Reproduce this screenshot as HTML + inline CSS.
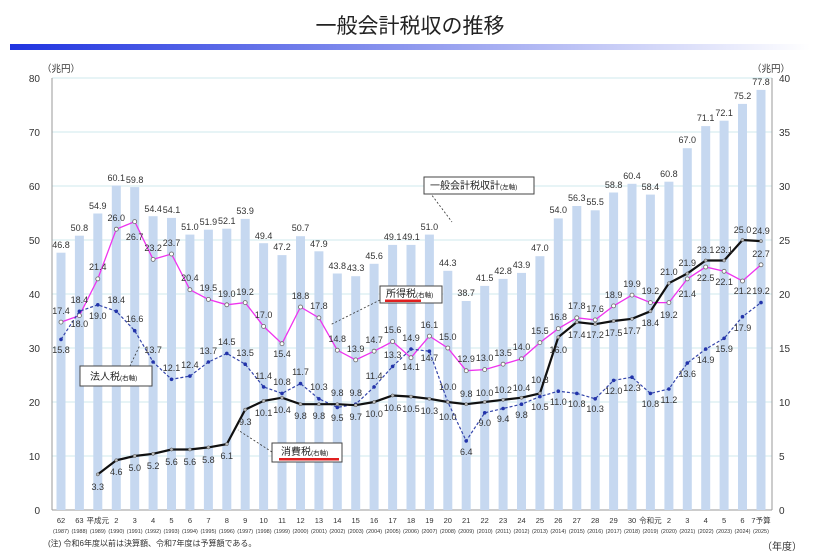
<!DOCTYPE html>
<html><head><meta charset="utf-8"><style>
body{margin:0;background:#fff;}
svg{display:block;font-family:"Liberation Sans","Noto Sans CJK JP",sans-serif;}
.d{font-size:9px;fill:#333;text-anchor:middle;}
.t{font-size:9.5px;fill:#333;}
.yl{font-size:7.5px;fill:#333;text-anchor:middle;}
.yp{font-size:5.5px;fill:#333;text-anchor:middle;}
</style></head><body>
<svg width="819" height="554" viewBox="0 0 819 554">
<defs><linearGradient id="g" x1="0" x2="1"><stop offset="0" stop-color="#1f33e0"/><stop offset="0.5" stop-color="#8e98ee"/><stop offset="1" stop-color="#fff"/></linearGradient>
<marker id="mp" markerWidth="6" markerHeight="6" refX="3" refY="3" markerUnits="userSpaceOnUse"><circle cx="3" cy="3" r="2" fill="#fff" stroke="#666" stroke-width="0.8"/></marker>
<marker id="mb" markerWidth="6" markerHeight="6" refX="3" refY="3" markerUnits="userSpaceOnUse"><circle cx="3" cy="3" r="1.8" fill="#2233aa"/></marker>
<marker id="mk" markerWidth="6" markerHeight="6" refX="3" refY="3" markerUnits="userSpaceOnUse"><circle cx="3" cy="3" r="1.6" fill="#bbb" stroke="#444" stroke-width="0.5"/></marker>
</defs>
<text x="410" y="33" font-size="21" text-anchor="middle" fill="#222">一般会計税収の推移</text>
<rect x="10" y="44" width="800" height="6" fill="url(#g)"/>
<text x="42" y="72" class="t">（兆円）</text>
<text x="752" y="72" class="t">（兆円）</text>
<g stroke="#cfe9ee" stroke-width="1">
<line x1="52" y1="78" x2="772" y2="78"/><line x1="52" y1="132" x2="772" y2="132"/><line x1="52" y1="186" x2="772" y2="186"/><line x1="52" y1="240" x2="772" y2="240"/><line x1="52" y1="294" x2="772" y2="294"/><line x1="52" y1="348" x2="772" y2="348"/><line x1="52" y1="402" x2="772" y2="402"/><line x1="52" y1="456" x2="772" y2="456"/>
</g>
<g stroke="#999" stroke-width="1"><line x1="52" y1="78" x2="52" y2="510"/><line x1="772" y1="78" x2="772" y2="510"/><line x1="52" y1="510" x2="772" y2="510"/></g>
<g font-size="10" fill="#333" text-anchor="end">
<text x="40" y="82">80</text><text x="40" y="136">70</text><text x="40" y="190">60</text><text x="40" y="244">50</text><text x="40" y="298">40</text><text x="40" y="352">30</text><text x="40" y="406">20</text><text x="40" y="460">10</text><text x="40" y="514">0</text>
</g>
<g font-size="10" fill="#333">
<text x="779" y="82">40</text><text x="779" y="136">35</text><text x="779" y="190">30</text><text x="779" y="244">25</text><text x="779" y="298">20</text><text x="779" y="352">15</text><text x="779" y="406">10</text><text x="779" y="460">5</text><text x="779" y="514">0</text>
</g>
<g fill="#c6d8f0">
<rect x="56.5" y="252.7" width="9" height="257.3"/><rect x="74.9" y="235.7" width="9" height="274.3"/><rect x="93.3" y="213.5" width="9" height="296.5"/><rect x="111.8" y="185.5" width="9" height="324.5"/><rect x="130.2" y="187.1" width="9" height="322.9"/><rect x="148.6" y="216.2" width="9" height="293.8"/><rect x="167" y="217.9" width="9" height="292.1"/><rect x="185.4" y="234.6" width="9" height="275.4"/><rect x="203.9" y="229.7" width="9" height="280.3"/><rect x="222.3" y="228.7" width="9" height="281.3"/><rect x="240.7" y="218.9" width="9" height="291.1"/><rect x="259.1" y="243.2" width="9" height="266.8"/><rect x="277.5" y="255.1" width="9" height="254.9"/><rect x="296" y="236.2" width="9" height="273.8"/><rect x="314.4" y="251.3" width="9" height="258.7"/><rect x="332.8" y="273.5" width="9" height="236.5"/><rect x="351.2" y="276.2" width="9" height="233.8"/><rect x="369.6" y="263.8" width="9" height="246.2"/><rect x="388.1" y="244.9" width="9" height="265.1"/><rect x="406.5" y="244.9" width="9" height="265.1"/><rect x="424.9" y="234.6" width="9" height="275.4"/><rect x="443.3" y="270.8" width="9" height="239.2"/><rect x="461.7" y="301" width="9" height="209"/><rect x="480.2" y="285.9" width="9" height="224.1"/><rect x="498.6" y="278.9" width="9" height="231.1"/><rect x="517" y="272.9" width="9" height="237.1"/><rect x="535.4" y="256.2" width="9" height="253.8"/><rect x="553.8" y="218.4" width="9" height="291.6"/><rect x="572.3" y="206" width="9" height="304"/><rect x="590.7" y="210.3" width="9" height="299.7"/><rect x="609.1" y="192.5" width="9" height="317.5"/><rect x="627.5" y="183.8" width="9" height="326.2"/><rect x="645.9" y="194.6" width="9" height="315.4"/><rect x="664.4" y="181.7" width="9" height="328.3"/><rect x="682.8" y="148.2" width="9" height="361.8"/><rect x="701.2" y="126.1" width="9" height="383.9"/><rect x="719.6" y="120.7" width="9" height="389.3"/><rect x="738" y="103.9" width="9" height="406.1"/><rect x="756.5" y="89.9" width="9" height="420.1"/>
</g>
<g class="d">
<text x="61" y="248">46.8</text><text x="79.4" y="231">50.8</text><text x="97.8" y="209">54.9</text><text x="116.3" y="181">60.1</text><text x="134.7" y="183">59.8</text><text x="153.1" y="212">54.4</text><text x="171.5" y="213">54.1</text><text x="189.9" y="230">51.0</text><text x="208.4" y="225">51.9</text><text x="226.8" y="224">52.1</text><text x="245.2" y="214">53.9</text><text x="263.6" y="239">49.4</text><text x="282" y="250">47.2</text><text x="300.5" y="231">50.7</text><text x="318.9" y="247">47.9</text><text x="337.3" y="269">43.8</text><text x="355.7" y="271">43.3</text><text x="374.1" y="259">45.6</text><text x="392.6" y="240">49.1</text><text x="411" y="240">49.1</text><text x="429.4" y="230">51.0</text><text x="447.8" y="266">44.3</text><text x="466.2" y="296">38.7</text><text x="484.7" y="281">41.5</text><text x="503.1" y="274">42.8</text><text x="521.5" y="268">43.9</text><text x="539.9" y="251">47.0</text><text x="558.3" y="213">54.0</text><text x="576.8" y="201">56.3</text><text x="595.2" y="205">55.5</text><text x="613.6" y="188">58.8</text><text x="632" y="179">60.4</text><text x="650.4" y="190">58.4</text><text x="668.9" y="177">60.8</text><text x="687.3" y="143">67.0</text><text x="705.7" y="121">71.1</text><text x="724.1" y="116">72.1</text><text x="742.5" y="99">75.2</text><text x="761" y="85">77.8</text>
</g>
<polyline fill="none" stroke="#ee33ee" stroke-width="1.3" marker-start="url(#mp)" marker-mid="url(#mp)" marker-end="url(#mp)" points="61,322.1 79.4,315.6 97.8,278.9 116.3,229.2 134.7,221.6 153.1,259.4 171.5,254 189.9,289.7 208.4,299.4 226.8,304.8 245.2,302.6 263.6,326.4 282,343.7 300.5,307 318.9,317.8 337.3,350.2 355.7,359.9 374.1,351.2 392.6,341.5 411,357.7 429.4,336.1 447.8,348 466.2,370.7 484.7,369.6 503.1,364.2 521.5,358.8 539.9,342.6 558.3,328.6 576.8,317.8 595.2,319.9 613.6,305.9 632,295.1 650.4,302.6 668.9,302.6 687.3,278.9 705.7,267 724.1,271.3 742.5,281 761,264.8"/>
<polyline fill="none" stroke="#3344aa" stroke-width="1.2" stroke-dasharray="3,2" marker-start="url(#mb)" marker-mid="url(#mb)" marker-end="url(#mb)" points="61,339.4 79.4,311.3 97.8,304.8 116.3,311.3 134.7,330.7 153.1,362 171.5,379.3 189.9,376.1 208.4,362 226.8,353.4 245.2,364.2 263.6,386.9 282,393.4 300.5,383.6 318.9,398.8 337.3,407.4 355.7,404.2 374.1,386.9 392.6,366.4 411,349.1 429.4,351.2 447.8,402 466.2,440.9 484.7,412.8 503.1,408.5 521.5,404.2 539.9,396.6 558.3,391.2 576.8,393.4 595.2,398.8 613.6,380.4 632,377.2 650.4,393.4 668.9,389 687.3,363.1 705.7,349.1 724.1,338.3 742.5,316.7 761,302.6"/>
<polyline fill="none" stroke="#111" stroke-width="2.2" marker-start="url(#mk)" marker-mid="url(#mk)" marker-end="url(#mk)" points="97.8,474.4 116.3,460.3 134.7,456 153.1,453.8 171.5,449.5 189.9,449.5 208.4,447.4 226.8,444.1 245.2,409.6 263.6,400.9 282,397.7 300.5,404.2 318.9,404.2 337.3,404.2 355.7,405.2 374.1,402 392.6,395.5 411,396.6 429.4,398.8 447.8,402 466.2,404.2 484.7,402 503.1,399.8 521.5,397.7 539.9,393.4 558.3,337.2 576.8,322.1 595.2,324.2 613.6,321 632,318.8 650.4,311.3 668.9,283.2 687.3,273.5 705.7,260.5 724.1,260.5 742.5,240 761,241.1"/>
<g class="d">
<text x="61" y="314">17.4</text><text x="79.4" y="327">18.0</text><text x="97.8" y="270">21.4</text><text x="116.3" y="221">26.0</text><text x="134.7" y="240">26.7</text><text x="153.1" y="251">23.2</text><text x="171.5" y="246">23.7</text><text x="189.9" y="281">20.4</text><text x="208.4" y="291">19.5</text><text x="226.8" y="297">19.0</text><text x="245.2" y="295">19.2</text><text x="263.6" y="318">17.0</text><text x="282" y="357">15.4</text><text x="300.5" y="299">18.8</text><text x="318.9" y="309">17.8</text><text x="337.3" y="342">14.8</text><text x="355.7" y="352">13.9</text><text x="374.1" y="343">14.7</text><text x="392.6" y="333">15.6</text><text x="411" y="370">14.1</text><text x="429.4" y="328">16.1</text><text x="447.8" y="340">15.0</text><text x="466.2" y="362">12.9</text><text x="484.7" y="361">13.0</text><text x="503.1" y="356">13.5</text><text x="521.5" y="350">14.0</text><text x="539.9" y="334">15.5</text><text x="558.3" y="320">16.8</text><text x="576.8" y="309">17.8</text><text x="595.2" y="312">17.6</text><text x="613.6" y="298">18.9</text><text x="632" y="287">19.9</text><text x="650.4" y="294">19.2</text><text x="668.9" y="318">19.2</text><text x="687.3" y="297">21.4</text><text x="705.7" y="281">22.5</text><text x="724.1" y="285">22.1</text><text x="742.5" y="294">21.2</text><text x="761" y="257">22.7</text>
</g>
<g class="d">
<text x="61" y="353">15.8</text><text x="79.4" y="303">18.4</text><text x="97.8" y="319">19.0</text><text x="116.3" y="303">18.4</text><text x="134.7" y="322">16.6</text><text x="153.1" y="353">13.7</text><text x="171.5" y="371">12.1</text><text x="189.9" y="368">12.4</text><text x="208.4" y="354">13.7</text><text x="226.8" y="345">14.5</text><text x="245.2" y="356">13.5</text><text x="263.6" y="379">11.4</text><text x="282" y="385">10.8</text><text x="300.5" y="375">11.7</text><text x="318.9" y="390">10.3</text><text x="337.3" y="421">9.5</text><text x="355.7" y="396">9.8</text><text x="374.1" y="379">11.4</text><text x="392.6" y="358">13.3</text><text x="411" y="341">14.9</text><text x="429.4" y="361">14.7</text><text x="447.8" y="390">10.0</text><text x="466.2" y="455">6.4</text><text x="484.7" y="426">9.0</text><text x="503.1" y="422">9.4</text><text x="521.5" y="418">9.8</text><text x="539.9" y="410">10.5</text><text x="558.3" y="405">11.0</text><text x="576.8" y="407">10.8</text><text x="595.2" y="412">10.3</text><text x="613.6" y="394">12.0</text><text x="632" y="391">12.3</text><text x="650.4" y="407">10.8</text><text x="668.9" y="403">11.2</text><text x="687.3" y="377">13.6</text><text x="705.7" y="363">14.9</text><text x="724.1" y="352">15.9</text><text x="742.5" y="331">17.9</text><text x="761" y="294">19.2</text>
</g>
<g class="d">
<text x="97.8" y="490">3.3</text><text x="116.3" y="475">4.6</text><text x="134.7" y="471">5.0</text><text x="153.1" y="469">5.2</text><text x="171.5" y="465">5.6</text><text x="189.9" y="465">5.6</text><text x="208.4" y="463">5.8</text><text x="226.8" y="459">6.1</text><text x="245.2" y="425">9.3</text><text x="263.6" y="416">10.1</text><text x="282" y="413">10.4</text><text x="300.5" y="419">9.8</text><text x="318.9" y="419">9.8</text><text x="337.3" y="396">9.8</text><text x="355.7" y="420">9.7</text><text x="374.1" y="417">10.0</text><text x="392.6" y="411">10.6</text><text x="411" y="412">10.5</text><text x="429.4" y="414">10.3</text><text x="447.8" y="420">10.0</text><text x="466.2" y="397">9.8</text><text x="484.7" y="396">10.0</text><text x="503.1" y="393">10.2</text><text x="521.5" y="391">10.4</text><text x="539.9" y="383">10.8</text><text x="558.3" y="353">16.0</text><text x="576.8" y="338">17.4</text><text x="595.2" y="338">17.2</text><text x="613.6" y="336">17.5</text><text x="632" y="334">17.7</text><text x="650.4" y="326">18.4</text><text x="668.9" y="275">21.0</text><text x="687.3" y="266">21.9</text><text x="705.7" y="253">23.1</text><text x="724.1" y="253">23.1</text><text x="742.5" y="233">25.0</text><text x="761" y="234">24.9</text>
</g>
<g stroke="#333" stroke-width="0.8" stroke-dasharray="2,2" fill="none">
<line x1="425" y1="186" x2="452" y2="222"/><line x1="380" y1="300" x2="330" y2="325"/><line x1="128" y1="370" x2="140" y2="345"/><line x1="272" y1="452" x2="238" y2="430"/>
</g>
<g fill="#fff" stroke="#444" stroke-width="1">
<rect x="424" y="177" width="110" height="17"/><rect x="380" y="286" width="62" height="17"/><rect x="80" y="366" width="72" height="20"/><rect x="272" y="443" width="70" height="19"/>
</g>
<g font-size="10" fill="#222">
<text x="430" y="189">一般会計税収計<tspan font-size="6.5">(左軸)</tspan></text>
<text x="386" y="297">所得税<tspan font-size="6.5">(右軸)</tspan></text>
<text x="90" y="380">法人税<tspan font-size="6.5">(右軸)</tspan></text>
<text x="281" y="455">消費税<tspan font-size="6.5">(右軸)</tspan></text>
</g>
<rect x="385" y="299.5" width="36" height="2.5" fill="#e02020"/>
<rect x="279" y="458" width="60" height="2.5" fill="#e02020"/>
<g class="yl">
<text x="61" y="523">62</text><text x="79.4" y="523">63</text><text x="97.8" y="523">平成元</text><text x="116.3" y="523">2</text><text x="134.7" y="523">3</text><text x="153.1" y="523">4</text><text x="171.5" y="523">5</text><text x="189.9" y="523">6</text><text x="208.4" y="523">7</text><text x="226.8" y="523">8</text><text x="245.2" y="523">9</text><text x="263.6" y="523">10</text><text x="282" y="523">11</text><text x="300.5" y="523">12</text><text x="318.9" y="523">13</text><text x="337.3" y="523">14</text><text x="355.7" y="523">15</text><text x="374.1" y="523">16</text><text x="392.6" y="523">17</text><text x="411" y="523">18</text><text x="429.4" y="523">19</text><text x="447.8" y="523">20</text><text x="466.2" y="523">21</text><text x="484.7" y="523">22</text><text x="503.1" y="523">23</text><text x="521.5" y="523">24</text><text x="539.9" y="523">25</text><text x="558.3" y="523">26</text><text x="576.8" y="523">27</text><text x="595.2" y="523">28</text><text x="613.6" y="523">29</text><text x="632" y="523">30</text><text x="650.4" y="523">令和元</text><text x="668.9" y="523">2</text><text x="687.3" y="523">3</text><text x="705.7" y="523">4</text><text x="724.1" y="523">5</text><text x="742.5" y="523">6</text><text x="761" y="523">7予算</text>
</g>
<g class="yp">
<text x="61" y="533">(1987)</text><text x="79.4" y="533">(1988)</text><text x="97.8" y="533">(1989)</text><text x="116.3" y="533">(1990)</text><text x="134.7" y="533">(1991)</text><text x="153.1" y="533">(1992)</text><text x="171.5" y="533">(1993)</text><text x="189.9" y="533">(1994)</text><text x="208.4" y="533">(1995)</text><text x="226.8" y="533">(1996)</text><text x="245.2" y="533">(1997)</text><text x="263.6" y="533">(1998)</text><text x="282" y="533">(1999)</text><text x="300.5" y="533">(2000)</text><text x="318.9" y="533">(2001)</text><text x="337.3" y="533">(2002)</text><text x="355.7" y="533">(2003)</text><text x="374.1" y="533">(2004)</text><text x="392.6" y="533">(2005)</text><text x="411" y="533">(2006)</text><text x="429.4" y="533">(2007)</text><text x="447.8" y="533">(2008)</text><text x="466.2" y="533">(2009)</text><text x="484.7" y="533">(2010)</text><text x="503.1" y="533">(2011)</text><text x="521.5" y="533">(2012)</text><text x="539.9" y="533">(2013)</text><text x="558.3" y="533">(2014)</text><text x="576.8" y="533">(2015)</text><text x="595.2" y="533">(2016)</text><text x="613.6" y="533">(2017)</text><text x="632" y="533">(2018)</text><text x="650.4" y="533">(2019)</text><text x="668.9" y="533">(2020)</text><text x="687.3" y="533">(2021)</text><text x="705.7" y="533">(2022)</text><text x="724.1" y="533">(2023)</text><text x="742.5" y="533">(2024)</text><text x="761" y="533">(2025)</text>
</g>
<text x="48" y="546" font-size="8" fill="#333">(注) 令和6年度以前は決算額、令和7年度は予算額である。</text>
<text x="762" y="550" font-size="10" fill="#333">（年度）</text>
</svg>
</body></html>
